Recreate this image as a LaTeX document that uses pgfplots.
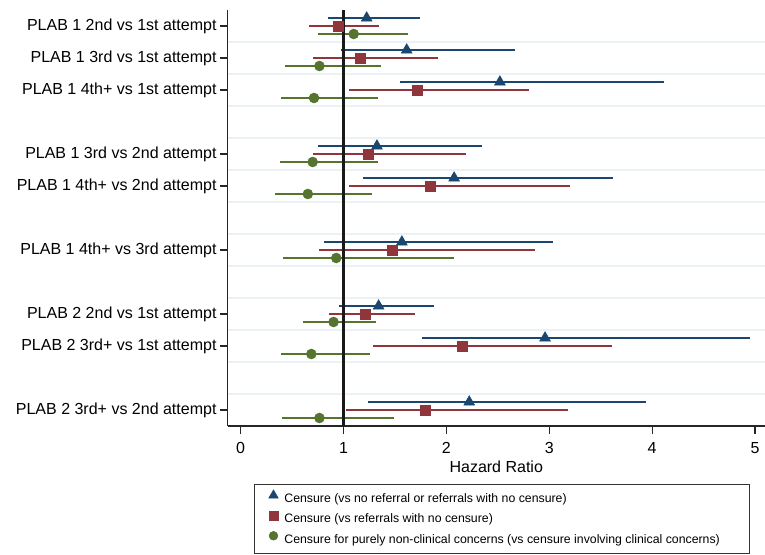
\documentclass[border=0pt]{standalone}
\usepackage{pgfplots}
\usepackage{pgfplotstable}
\pgfplotsset{compat=1.18}
\usepackage{fontspec}
\setmainfont{Liberation Sans}

\definecolor{stblue}{RGB}{26,71,111}
\definecolor{stred}{RGB}{144,53,59}
\definecolor{stgreen}{RGB}{85,117,47}
\definecolor{gridc}{RGB}{234,242,243}

% hazard ratio, lower and upper bound, one table per model
% y: row position (0 = top row), shifted +-0.25 within the row
\pgfplotstableread{
y      hr     lo     hi
0.25   1.225  0.850  1.743
-0.75  1.614  0.976  2.663
-1.75  2.520  1.544  4.115
-3.75  1.325  0.753  2.345
-4.75  2.075  1.185  3.617
-6.75  1.567  0.813  3.036
-8.75  1.341  0.952  1.883
-9.75  2.959  1.766  4.952
-11.75 2.222  1.241  3.939
}\censureall

\pgfplotstableread{
y      hr     lo     hi
0      0.946  0.660  1.344
-1     1.165  0.703  1.923
-2     1.717  1.055  2.803
-4     1.241  0.703  2.188
-5     1.840  1.055  3.202
-7     1.477  0.766  2.863
-9     1.208  0.859  1.693
-10    2.158  1.285  3.607
-12    1.793  1.026  3.185
}\censureref

\pgfplotstableread{
y      hr     lo     hi
-0.25  1.099  0.753  1.624
-1.25  0.766  0.434  1.368
-2.25  0.713  0.388  1.334
-4.25  0.700  0.378  1.334
-5.25  0.653  0.331  1.281
-7.25  0.929  0.414  2.075
-9.25  0.903  0.610  1.315
-10.25 0.687  0.388  1.255
-12.25 0.766  0.401  1.494
}\censurenonclin

\pgfplotsset{
  fmark/.style={
    only marks,
    legend image code/.code={\draw[##1, every mark/.append style={scale=0.88}]
      plot coordinates {(0bp,3.3bp)};},
    error bars/x dir=both,
    error bars/x explicit,
    error bars/error mark=none,
    error bars/error bar style={line width=1.6bp, #1},
    color=#1,
    mark options={solid, fill=#1, draw=#1, line width=0.5bp},
  },
}

\begin{document}
\begin{tikzpicture}
\begin{axis}[
  at={(227.5bp,129bp)}, anchor=south west,
  scale only axis, width=537.5bp, height=416bp,
  xmin=-0.128, xmax=5.097, ymin=-12.5, ymax=0.5,
  axis x line*=bottom, axis y line*=left,
  axis line style={line width=1.2bp, black!85},
  tick align=outside, major tick length=7.5bp,
  tick style={line width=1.2bp, black!85},
  xtick={0,1,2,3,4,5},
  ytick={0,-1,-2,-4,-5,-7,-9,-10,-12},
  yticklabels={PLAB 1 2nd vs 1st attempt, PLAB 1 3rd vs 1st attempt,
    PLAB 1 4th+ vs 1st attempt, PLAB 1 3rd vs 2nd attempt,
    PLAB 1 4th+ vs 2nd attempt, PLAB 1 4th+ vs 3rd attempt,
    PLAB 2 2nd vs 1st attempt, PLAB 2 3rd+ vs 1st attempt,
    PLAB 2 3rd+ vs 2nd attempt},
  minor ytick={-0.5,-1.5,...,-11.5},
  minor tick length=0pt,
  yminorgrids=true,
  minor grid style={line width=1.3bp, color=gridc},
  ticklabel style={font=\fontsize{16bp}{19bp}\selectfont},
  xticklabel style={yshift=-5.5bp},
  /pgf/number format/assume math mode=true,
  xlabel={Hazard Ratio},
  xlabel style={font=\fontsize{16bp}{19bp}\selectfont,
    at={(axis description cs:0.5,0)}, anchor=base, yshift=-46.5bp},
  legend cell align=left,
  legend style={at={(axis description cs:0,0)}, anchor=north west,
    xshift=26.8bp, yshift=-58bp, draw=black!80, line width=0.8bp,
    inner xsep=14bp, inner ysep=4.2bp, row sep=0bp, column sep=2bp,
    font=\fontsize{12.3bp}{14bp}\selectfont,
    nodes={text height=10bp, text depth=2bp, inner sep=4.1bp}},
]

\addplot[fmark=stblue, mark=triangle*, mark size=6.3bp]
  table[x=hr, y=y,
    x error plus expr=\thisrow{hi}-\thisrow{hr},
    x error minus expr=\thisrow{hr}-\thisrow{lo}] {\censureall};
\addlegendentry{Censure (vs no referral or referrals with no censure)}

\addplot[fmark=stred, mark=square*, mark size=5bp]
  table[x=hr, y=y,
    x error plus expr=\thisrow{hi}-\thisrow{hr},
    x error minus expr=\thisrow{hr}-\thisrow{lo}] {\censureref};
\addlegendentry{Censure (vs referrals with no censure)}

\addplot[fmark=stgreen, mark=*, mark size=5bp]
  table[x=hr, y=y,
    x error plus expr=\thisrow{hi}-\thisrow{hr},
    x error minus expr=\thisrow{hr}-\thisrow{lo}] {\censurenonclin};
\addlegendentry{Censure for purely non-clinical concerns (vs censure involving clinical concerns)\rule{11bp}{0pt}}

% reference line at HR = 1
\addplot[forget plot, line width=2.2bp, black!90] coordinates {(1,-12.5) (1,0.5)};

\end{axis}
\pgfresetboundingbox
\path[use as bounding box] (0,0) rectangle (765bp,555bp);
\end{tikzpicture}
\end{document}
